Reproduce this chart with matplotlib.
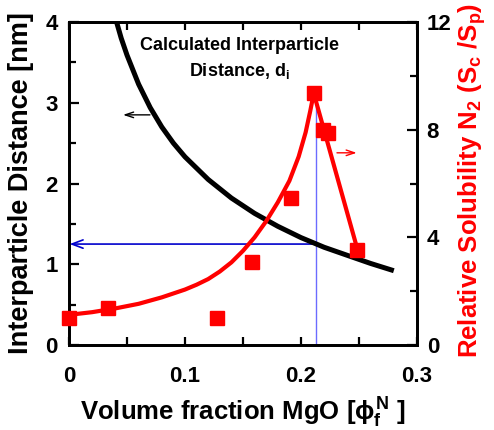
import matplotlib
matplotlib.use("Agg")
import matplotlib.pyplot as plt
from matplotlib.ticker import MultipleLocator

plt.rcParams['font.family'] = ['Liberation Sans', 'DejaVu Sans']
plt.rcParams['font.weight'] = 'bold'
plt.rcParams['mathtext.fontset'] = 'custom'
plt.rcParams['mathtext.rm'] = 'Liberation Sans:bold'
plt.rcParams['mathtext.it'] = 'Liberation Sans:bold'
plt.rcParams['mathtext.bf'] = 'Liberation Sans:bold'
plt.rcParams['mathtext.sf'] = 'Liberation Sans:bold'
plt.rcParams['mathtext.fallback'] = 'stixsans'

# Calculated interparticle distance (left axis, nm)
dist_phi = [0.041, 0.045, 0.05, 0.06, 0.07, 0.08, 0.09, 0.10, 0.12, 0.14,
            0.16, 0.18, 0.20, 0.22, 0.24, 0.26, 0.28]
dist_nm = [4.00, 3.80, 3.59, 3.23, 2.94, 2.70, 2.50, 2.33, 2.05, 1.82,
           1.63, 1.47, 1.33, 1.21, 1.11, 1.01, 0.92]

# Relative solubility measured points (right axis)
sol_phi = [0.0, 0.034, 0.128, 0.158, 0.191, 0.211, 0.219, 0.223, 0.248]
sol_val = [1.0, 1.37, 1.0, 3.08, 5.46, 9.37, 7.99, 7.88, 3.53]

# Relative solubility trend curve (right axis)
trend_phi = [0.0, 0.02, 0.04, 0.06, 0.08, 0.10, 0.11, 0.12, 0.13, 0.14, 0.15,
             0.16, 0.17, 0.18, 0.19, 0.198, 0.204, 0.208, 0.211, 0.249]
trend_val = [1.12, 1.22, 1.36, 1.53, 1.77, 2.06, 2.24, 2.45, 2.73, 3.07, 3.5,
             4.0, 4.6, 5.3, 6.1, 7.0, 7.9, 8.7, 9.35, 3.5]

phi_opt = 0.213
d_opt = 1.25
peak_left = 3.1

fig = plt.figure(figsize=(4.94, 4.30), dpi=100)
ax = fig.add_axes([69/494, 1-345/430, 348/494, 323/430])
ax2 = ax.twinx()

ax.plot(dist_phi, dist_nm, color='black', lw=3.6, solid_capstyle='butt', zorder=3)
ax.plot([phi_opt, phi_opt], [0, peak_left], color='#6b6bff', lw=1.0, zorder=2)
ax.annotate('', xy=(0.0005, d_opt), xytext=(phi_opt, d_opt),
            arrowprops=dict(arrowstyle='->,head_length=0.8,head_width=0.3',
                            color='#0000cc', lw=1.2, shrinkA=0, shrinkB=0), zorder=2)
ax.annotate('', xy=(0.0466, 2.85), xytext=(0.0698, 2.85),
            arrowprops=dict(arrowstyle='->,head_length=0.6,head_width=0.2',
                            color='black', lw=1.0, shrinkA=0, shrinkB=0))

ax2.plot(trend_phi, trend_val, color='red', lw=3.0, zorder=3)
ax2.plot(sol_phi, sol_val, ls='none', marker='s', ms=10, color='red',
         markeredgecolor='red', zorder=4, clip_on=False)
ax2.annotate('', xy=(0.248, 7.14), xytext=(0.231, 7.14),
             arrowprops=dict(arrowstyle='->,head_length=0.6,head_width=0.2',
                             color='red', lw=1.0, shrinkA=0, shrinkB=0))

ax.set_xlim(0, 0.3)
ax.set_ylim(0, 4)
ax2.set_ylim(0, 12)

ax.xaxis.set_minor_locator(MultipleLocator(0.05))
ax.yaxis.set_minor_locator(MultipleLocator(0.5))
ax2.yaxis.set_minor_locator(MultipleLocator(2))
ax.set_xticks([0, 0.1, 0.2, 0.3])
ax.set_xticklabels(['0', '0.1', '0.2', '0.3'])
ax.set_yticks([0, 1, 2, 3, 4])
ax.set_yticklabels(['0', '1', '2', '3', '4'])
ax2.set_yticks([0, 4, 8, 12])
ax2.set_yticklabels(['0', '4', '8', '12'])

for a in (ax, ax2):
    for s in a.spines.values():
        s.set_linewidth(2.0)
ax.tick_params(axis='x', which='both', direction='in', top=True, bottom=True,
               width=1.6, labelsize=16, pad=15)
ax.tick_params(axis='x', which='major', length=6)
ax.tick_params(axis='x', which='minor', length=6)
ax.tick_params(axis='y', which='both', direction='in', left=True, right=False,
               width=1.6, labelsize=16, pad=8)
ax.tick_params(axis='y', which='major', length=7)
ax.tick_params(axis='y', which='minor', length=5)
ax2.tick_params(axis='y', which='both', direction='in', right=True, left=False,
                width=1.6, labelsize=16, pad=7)
ax2.tick_params(axis='y', which='major', length=7)
ax2.tick_params(axis='y', which='minor', length=5)
for lab in ax.get_xticklabels() + ax.get_yticklabels() + ax2.get_yticklabels():
    lab.set_fontweight('bold')

ax.set_xlabel(r'Volume fraction MgO [$\phi_f^N$ ]', fontsize=18.5, fontweight='bold')
ax.xaxis.set_label_coords(0.5, -0.158)
ax.xaxis.label.set_va('top')
ax.set_ylabel('Interparticle Distance [nm]', fontsize=19.5, fontweight='bold')
ax.yaxis.set_label_coords(-0.1, 0.5)
ax2.set_ylabel(r'Relative Solubility N$_2$ (S$_c$ /S$_p$)', fontsize=18.5,
               fontweight='bold', color='red')
ax2.yaxis.set_label_coords(1.112, 0.51)

ax.text(0.147, 3.54, 'Calculated Interparticle\nDistance, d$_i$', ha='center',
        va='center', fontsize=13, fontweight='bold', linespacing=1.45)

fig.savefig('out.png', dpi=100)
